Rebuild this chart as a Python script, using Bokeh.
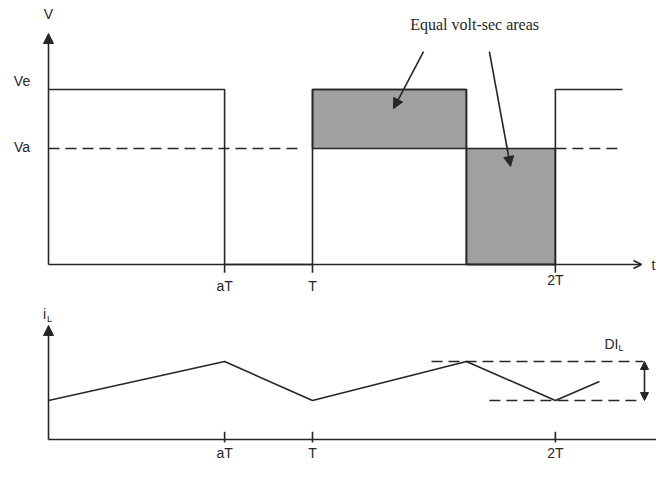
from bokeh.plotting import figure
from bokeh.models import Range1d, Arrow, NormalHead, OpenHead
from bokeh.layouts import column
from bokeh.core.properties import value
from bokeh.embed import file_html
from bokeh.resources import INLINE

# ---- data (time in units of T) ----
tick_pos = [0.667, 1.0, 1.92]
tick_labels = ["aT", "T", "2T"]
Ve = 1.0
Va = 0.663
v_t = [0, 0.667, 0.667, 1.0, 1.0, 1.583, 1.583, 1.92, 1.92, 2.174]
v_y = [Ve, Ve, 0, 0, Ve, Ve, 0, 0, Ve, Ve]
area_left = [1.0, 1.583]
area_right = [1.583, 1.92]
area_bottom = [Va, 0]
area_top = [Ve, Va]
i_t = [0, 0.667, 1.0, 1.583, 1.92, 2.087]
i_y = [0.5, 1.0, 0.5, 1.0, 0.5, 0.744]
i_max = 1.0
i_min = 0.5

INK = "#262626"
GRAY = "#a0a0a0"
SANS = value("Liberation Sans")
SERIF = value("Liberation Serif")
LW = 1.6


def base_fig(h, y0, y1):
    p = figure(width=656, height=h, x_range=Range1d(-0.18182, 2.30303),
               y_range=Range1d(y0, y1), output_backend="svg", toolbar_location=None,
               x_axis_location=None, y_axis_location=None,
               min_border_left=0, min_border_right=0, min_border_top=0, min_border_bottom=0)
    p.grid.visible = False
    p.outline_line_color = None
    p.background_fill_color = "white"
    return p

# ---------------- top panel ----------------
p1 = base_fig(300, -0.2057, 1.5086)
p1.quad(left=area_left, right=area_right, bottom=area_bottom, top=area_top,
        fill_color=GRAY, line_color=INK, line_width=LW)
p1.line(v_t, v_y, line_color=INK, line_width=LW)
# Va dashed reference
p1.line([0, 0.958], [Va, Va], line_color=INK, line_width=LW, line_dash="11 6")
p1.line([1.92, 2.159], [Va, Va], line_color=INK, line_width=LW, line_dash="11 6")
# axes
p1.add_layout(Arrow(end=NormalHead(size=10, fill_color=INK, line_color=INK),
                    x_start=0, y_start=0, x_end=0, y_end=1.32, line_color=INK, line_width=LW))
p1.add_layout(Arrow(end=OpenHead(size=8, line_color=INK, line_width=LW),
                    x_start=0, y_start=0, x_end=2.246, y_end=0, line_color=INK, line_width=LW))
p1.segment(x0=tick_pos, y0=[0] * 3, x1=tick_pos, y1=[-0.047] * 3, line_color=INK, line_width=LW)
p1.text(x=tick_pos, y=[-0.12, -0.12, -0.086], text=tick_labels, text_font=SANS,
        text_font_size=value("14px"), text_align="center", text_baseline="middle", text_color=INK)
p1.text(x=[0, -0.1004, -0.1004, 2.2917], y=[1.4286, 1.051, 0.674, 0], text=["V", "Ve", "Va", "t"],
        text_font=SANS, text_font_size=value("14px"), text_align="center", text_baseline="middle",
        text_color=INK)
p1.text(x=[1.614], y=[1.371], text=["Equal volt-sec areas"], text_font=SERIF,
        text_font_size=value("16px"), text_align="center", text_baseline="middle", text_color=INK)
p1.add_layout(Arrow(end=NormalHead(size=10, fill_color=INK, line_color=INK),
                    x_start=1.4205, y_start=1.217, x_end=1.3068, y_end=0.891, line_color=INK, line_width=LW))
p1.add_layout(Arrow(end=NormalHead(size=10, fill_color=INK, line_color=INK),
                    x_start=1.670, y_start=1.217, x_end=1.75, y_end=0.56, line_color=INK, line_width=LW))

# ---------------- bottom panel ----------------
p2 = base_fig(164, -0.3205, 1.782)
p2.line(i_t, i_y, line_color=INK, line_width=LW)
p2.line([1.4508, 2.2538], [i_max, i_max], line_color=INK, line_width=LW, line_dash="11 6")
p2.line([1.670, 2.235], [i_min, i_min], line_color=INK, line_width=LW, line_dash="11 6")
p2.add_layout(Arrow(start=NormalHead(size=8, fill_color=INK, line_color=INK),
                    end=NormalHead(size=8, fill_color=INK, line_color=INK),
                    x_start=2.2576, y_start=i_min, x_end=2.2576, y_end=i_max, line_color=INK, line_width=LW))
p2.add_layout(Arrow(end=NormalHead(size=10, fill_color=INK, line_color=INK),
                    x_start=0, y_start=0, x_end=0, y_end=1.4615, line_color=INK, line_width=LW))
p2.line([0, 2.341], [0, 0], line_color=INK, line_width=LW)
p2.segment(x0=tick_pos, y0=[0.10] * 3, x1=tick_pos, y1=[-0.04] * 3, line_color=INK, line_width=LW)
p2.text(x=tick_pos, y=[-0.1667] * 3, text=tick_labels, text_font=SANS, text_font_size=value("14px"),
        text_align="center", text_baseline="middle", text_color=INK)
p2.text(x=[-0.015, 2.1326], y=[1.603, 1.218], text=["i", "DI"], text_font=SANS,
        text_font_size=value("14px"), text_align="center", text_baseline="middle", text_color=INK)
p2.text(x=[0.004, 2.1686], y=[1.55, 1.167], text=["L", "L"], text_font=SANS,
        text_font_size=value("9px"), text_align="center", text_baseline="middle", text_color=INK)

layout = column(p1, p2, spacing=0)
open("out.html", "w").write(file_html(layout, INLINE))
